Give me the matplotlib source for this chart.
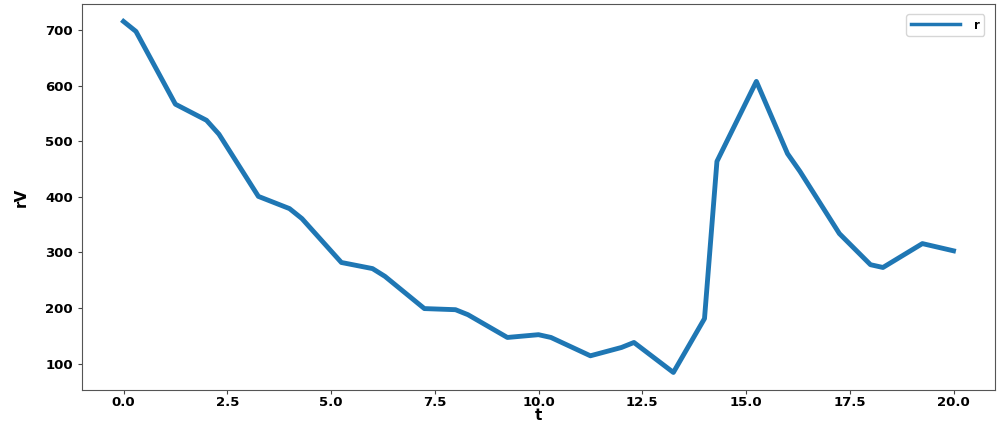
import matplotlib
matplotlib.use("Agg")
import matplotlib.pyplot as plt

t = [0.0, 0.3, 1.25, 2.0, 2.3, 3.25, 4.0, 4.3, 5.25, 6.0, 6.3, 7.25, 8.0, 8.3,
     9.25, 10.0, 10.3, 11.25, 12.0, 12.3, 13.25, 14.0, 14.3, 15.25, 16.0, 16.3,
     17.25, 18.0, 18.3, 19.25, 20.0]
r = [716, 698, 567, 538, 513, 401, 379, 361, 282, 271, 257, 199, 197, 188,
     147, 152, 147, 114, 129, 138, 84, 181, 464, 608, 478, 446,
     334, 278, 273, 316, 303]

plt.rcParams['font.family'] = ['DejaVu Sans']
plt.rcParams['font.weight'] = 'bold'

fig = plt.figure(figsize=(10, 4.3), dpi=100)
ax = fig.add_axes([0.082, 0.093, 0.913, 0.898])
ax.plot(t, r, color='#1f77b4', linewidth=3.5, label='r')
ax.set_xlabel('t', fontsize=11, fontweight='bold', labelpad=-1)
ax.set_ylabel('rV', fontsize=11, fontweight='bold', labelpad=12)
ax.set_yticks([100, 200, 300, 400, 500, 600, 700])
for lab in ax.get_xticklabels() + ax.get_yticklabels():
    lab.set_fontweight('bold')
ax.tick_params(labelsize=9.5, length=3, color='#444444')
ax.tick_params(axis='x', pad=1.5)
for s in ax.spines.values():
    s.set_color('#555555')
leg = ax.legend(loc='upper right', prop={'weight': 'bold', 'size': 8.5},
                handlelength=4.2, borderpad=0.35, borderaxespad=0.9,
                handletextpad=1.2)
leg.get_lines()[0].set_linewidth(2.5)
fig.savefig('out.png', dpi=100)
